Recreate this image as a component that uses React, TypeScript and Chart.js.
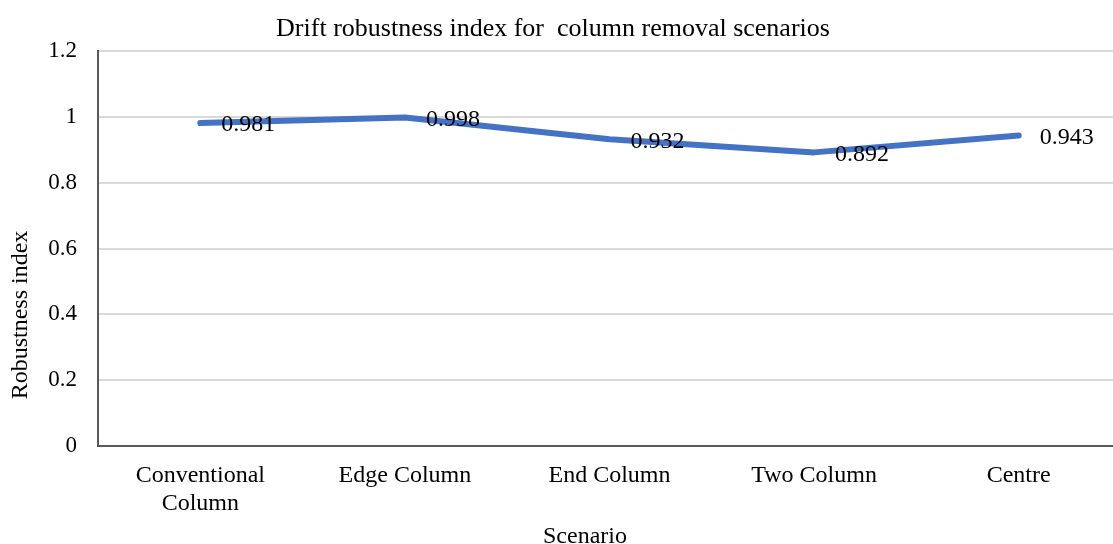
import React, { useEffect, useRef } from "react";
import { Chart, registerables } from "chart.js";

Chart.register(...registerables);

const categories: (string | string[])[] = [
  ["Conventional", "Column"],
  "Edge Column",
  "End Column",
  "Two Column",
  "Centre",
];
const values = [0.981, 0.998, 0.932, 0.892, 0.943];
const labelsText = ["0.981", "0.998", "0.932", "0.892", "0.943"];
const yTicks = [0, 0.2, 0.4, 0.6, 0.8, 1, 1.2];
const titleText = "Drift robustness index for  column removal scenarios";
const xTitle = "Scenario";
const yTitle = "Robustness index";

const FONT = "'Liberation Serif', 'Times New Roman', serif";

export default function App() {
  const ref = useRef<HTMLCanvasElement>(null);
  useEffect(() => {
    if (!ref.current) return;
    const textPlugin = {
      id: "texts",
      afterDraw(chart: any) {
        const ctx = chart.ctx;
        ctx.save();
        ctx.fillStyle = "#000";
        ctx.font = `26px ${FONT}`;
        ctx.textAlign = "center";
        ctx.textBaseline = "middle";
        ctx.fillText(titleText, 553, 29);
        ctx.font = `24px ${FONT}`;
        ctx.fillText(xTitle, 585, 537);
        ctx.save();
        ctx.translate(21, 315);
        ctx.rotate(-Math.PI / 2);
        ctx.fillText(yTitle, 0, 0);
        ctx.restore();
        // data labels
        const meta = chart.getDatasetMeta(0);
        ctx.font = `24px ${FONT}`;
        ctx.textAlign = "left";
        meta.data.forEach((pt: any, i: number) => {
          ctx.fillText(labelsText[i], pt.x + 21, pt.y + 2);
        });
        ctx.restore();
      },
    };
    const chart = new Chart(ref.current, {
      type: "line",
      data: {
        labels: categories,
        datasets: [
          {
            data: values,
            borderColor: "#4472C4",
            borderWidth: 6,
            borderCapStyle: "round",
            borderJoinStyle: "round",
            pointRadius: 0,
            tension: 0,
          },
        ],
      },
      options: {
        responsive: false,
        animation: false,
        layout: { padding: { top: 51, left: 0, right: 0, bottom: 0 } },
        plugins: {
          legend: { display: false },
          title: { display: false },
          tooltip: { enabled: false },
        },
        scales: {
          x: {
            offset: true,
            grid: { display: false, drawTicks: false },
            border: { display: true, color: "#595959", width: 2 },
            ticks: {
              color: "#000",
              padding: 15,
              font: { family: FONT, size: 24, lineHeight: 1.2 },
              maxRotation: 0,
              autoSkip: false,
            },
            afterFit: (s: any) => {
              s.height = 98;
            },
          },
          y: {
            min: 0,
            max: 1.2,
            afterBuildTicks: (s: any) => {
              s.ticks = yTicks.map((v) => ({ value: v }));
            },
            ticks: {
              color: "#000",
              padding: 21,
              font: { family: FONT, size: 23 },
              callback: (v: any) => String(Math.round(Number(v) * 10) / 10),
            },
            grid: {
              drawTicks: false,
              color: (c: any) => (c.tick && c.tick.value === 0 ? "#595959" : "#d9d9d9"),
              lineWidth: 2,
            },
            border: { display: true, color: "#595959", width: 2 },
            afterFit: (s: any) => {
              s.width = 98;
            },
          },
        },
      },
      plugins: [textPlugin],
    });
    return () => chart.destroy();
  }, []);
  return (
    <div
      style={{
        position: "fixed",
        left: 0,
        top: 0,
        width: 1113,
        height: 544,
        overflow: "hidden",
        background: "#fff",
      }}
    >
      <canvas ref={ref} width={1121} height={544} style={{ display: "block" }} />
    </div>
  );
}
